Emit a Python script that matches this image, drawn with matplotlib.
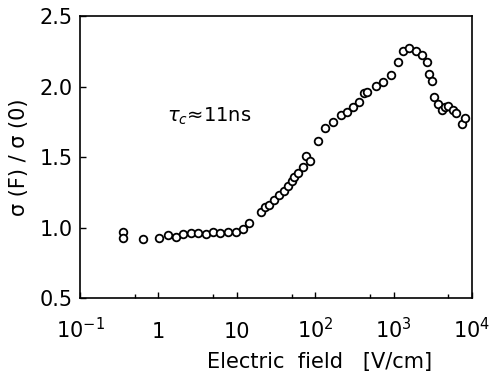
import matplotlib
matplotlib.use("Agg")
import matplotlib.pyplot as plt
from matplotlib.ticker import FixedLocator, NullFormatter


# field strength in V/cm
field = [0.356, 0.356, 0.641, 1.03, 1.34, 1.68, 2.08, 2.58, 3.23, 4.05, 5.01,
         6.11, 7.80, 9.77, 12.1, 14.4,
         20.2, 22.9, 26.0, 29.8, 34.8, 40.4, 45.4, 50.1, 54.1, 60.9, 70.5,
         76.3, 85.9, 110, 133,
         167, 211, 252, 301, 365, 419, 462, 597, 726, 919, 1148, 1307, 1585,
         1931, 2282, 2692, 2853, 3061, 3275, 3717, 4108, 4528, 4989, 5677,
         6256, 7393, 8147]

# normalised conductivity sigma(F)/sigma(0)
ratio = [0.970, 0.923, 0.916, 0.923, 0.947, 0.935, 0.952, 0.959, 0.963, 0.952,
         0.970, 0.963, 0.966, 0.970, 0.987, 1.030,
         1.112, 1.143, 1.160, 1.195, 1.230, 1.261, 1.294, 1.330, 1.356, 1.384,
         1.431, 1.507, 1.474, 1.616, 1.708,
         1.750, 1.798, 1.821, 1.852, 1.892, 1.952, 1.963, 2.004, 2.034, 2.082,
         2.172, 2.252, 2.271, 2.252, 2.223, 2.172, 2.087, 2.039, 1.923, 1.876,
         1.833, 1.852, 1.862, 1.833, 1.810, 1.734, 1.774]

x_ticks = [0.1, 1, 10, 100, 1000, 10000]
x_labels = ["10$^{-1}$", "1", "10", "10$^{2}$", "10$^{3}$", "10$^{4}$"]
x_minor = [0.5, 5, 50, 500, 5000]
y_ticks = [0.5, 1.0, 1.5, 2.0, 2.5]
y_labels = ["0.5", "1.0", "1.5", "2.0", "2.5"]

plt.rcParams["font.family"] = ["DejaVu Sans"]
plt.rcParams["mathtext.fontset"] = "dejavusans"

fig = plt.figure(figsize=(4.92, 3.80), dpi=100)
ax = fig.add_axes([0.1626, 0.2158, 0.7967, 0.742])

ax.plot(field, ratio, linestyle="none", marker="o", markersize=5.5,
        markerfacecolor="white", markeredgecolor="black", markeredgewidth=1.3)

ax.set_xscale("log")
ax.set_xlim(0.1, 10000)
ax.set_ylim(0.5, 2.5)

ax.xaxis.set_major_locator(FixedLocator(x_ticks))
ax.set_xticklabels(x_labels)
ax.xaxis.set_minor_locator(FixedLocator(x_minor))
ax.xaxis.set_minor_formatter(NullFormatter())
ax.set_yticks(y_ticks)
ax.set_yticklabels(y_labels)

ax.tick_params(axis="both", which="major", direction="in", length=4,
               width=1.0, labelsize=15)
ax.tick_params(axis="x", which="major", pad=29)
ax.tick_params(axis="y", which="major", pad=5)
ax.tick_params(axis="x", which="minor", direction="in", length=3, width=1.0)
for t in ax.get_xticklabels():
    t.set_verticalalignment("baseline")

for s in ax.spines.values():
    s.set_linewidth(1.2)

ax.set_ylabel("σ (F) / σ (0)", fontsize=15, labelpad=8)
ax.set_xlabel("Electric  field   [V/cm]", fontsize=15, labelpad=4)
ax.xaxis.set_label_coords(0.612, -0.19)

ax.text(1.29, 1.79, r"$\tau_c$≈11ns", fontsize=14, ha="left", va="center")

fig.savefig("out.png", dpi=100)
